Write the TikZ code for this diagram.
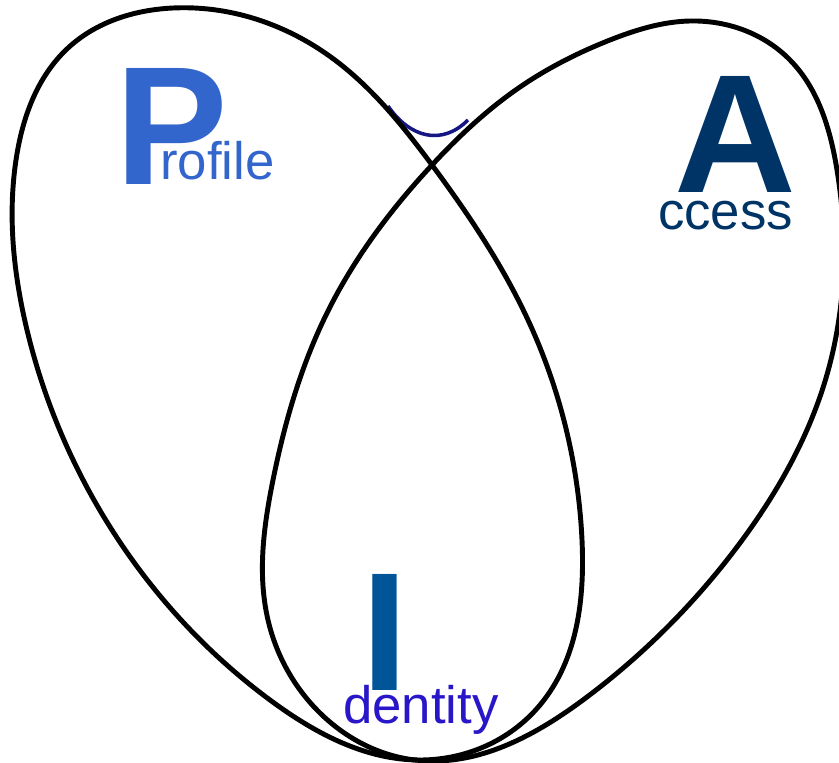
\documentclass[tikz,border=0pt]{standalone}
\usepackage{fontspec}
\setmainfont{Liberation Sans}
\usetikzlibrary{positioning,hobby}
\definecolor{profileblue}{RGB}{51,102,204}
\definecolor{accessnavy}{RGB}{0,51,102}
\definecolor{identityfill}{RGB}{0,85,153}
\definecolor{identityblue}{RGB}{40,22,200}
\definecolor{tracenavy}{RGB}{22,22,130}

\begin{document}
\begin{tikzpicture}[x=0.03cm, y=-0.03cm,
    loop/.style={draw=black, line width=4.2pt},
    big/.style={inner sep=0pt, anchor=base west, font=\bfseries\fontsize{144}{144}\selectfont},
    small/.style={inner sep=0pt, anchor=base west, font=\fontsize{45}{45}\selectfont}]
  \useasboundingbox (0,0) rectangle (839,763);
  \draw[tracenavy, line width=3pt] (388,106) .. controls (410,138) and (442,146) .. (468,120);
  % Profile loop
  \draw[loop] plot[closed hobby] coordinates {
    (173,8) (328,55) (432,165) (528,320) (582,540) (540,705) (420,760)
    (270,700) (112,530) (27,330) (16,160) (68,48)};
  % Access loop
  \draw[loop] plot[closed hobby] coordinates {
    (690,21) (790,60) (837,170) (826,378) (737,547) (587,697) (415,760)
    (320,713) (268,620) (273,480) (327,313) (432,165) (520,87) (610,40)};
  \node[big, text=profileblue] (P) at (115,185) {P};
  \node[small, text=profileblue] (rofile) at (160,180) {rofile};
  \node[big, text=accessnavy] (A) at (674,193) {A};
  \node[small, text=accessnavy] (ccess) at (658,230) {ccess};
  \node[big, text=identityfill] (I) at (361,690) {I};
  \node[small, text=identityblue] (dentity) at (343,723) {dentity};
\end{tikzpicture}
\end{document}
